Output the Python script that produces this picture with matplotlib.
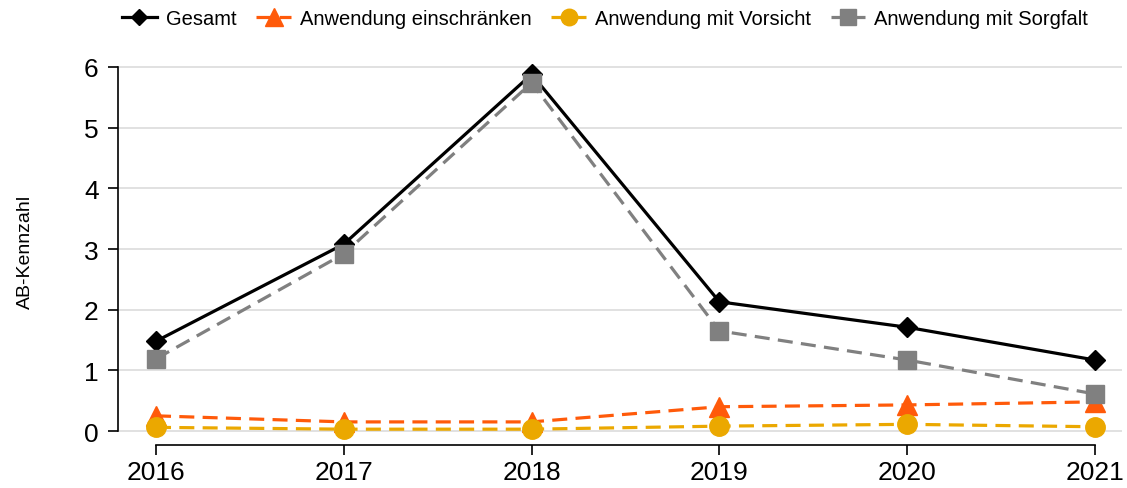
import matplotlib
matplotlib.use("Agg")
import matplotlib.pyplot as plt

plt.rcParams['font.family'] = ['Liberation Sans', 'DejaVu Sans']

years = [2016, 2017, 2018, 2019, 2020, 2021]
gesamt = [1.48, 3.08, 5.88, 2.13, 1.71, 1.17]
einschraenken = [0.25, 0.15, 0.15, 0.40, 0.43, 0.48]
vorsicht = [0.06, 0.03, 0.03, 0.08, 0.11, 0.07]
sorgfalt = [1.19, 2.92, 5.74, 1.65, 1.17, 0.61]

labels = ["Gesamt", "Anwendung einschränken", "Anwendung mit Vorsicht", "Anwendung mit Sorgfalt"]
yticks = [0, 1, 2, 3, 4, 5, 6]

fig = plt.figure(figsize=(11.27, 4.89), dpi=100)
ax = fig.add_axes([118/1127, 1-446/489, (1122-118)/1127, (446-58)/489])

lw = 2.3
dash = (4.7, 2.6)
ax.plot(years, gesamt, color='black', lw=lw, marker='D', markersize=10, label=labels[0], zorder=3)
ax.plot(years, einschraenken, color='#FF5A0A', lw=lw, ls='--', dashes=dash, marker='^', markersize=14.5,
        label=labels[1], zorder=4)
ax.plot(years, vorsicht, color='#EBA800', lw=lw, ls='--', dashes=dash, marker='o', markersize=14,
        label=labels[2], zorder=5)
ax.plot(years, sorgfalt, color='#808080', lw=lw, ls='--', dashes=dash, marker='s', markersize=13.5,
        label=labels[3], zorder=6)

ax.set_xlim(2016 - 38/187.8, 2021 + 27/187.8)
ax.set_ylim(-14/60.67, 6 + 10/60.67)

ax.set_yticks(yticks)
ax.set_xticks(years)
for y in yticks:
    ax.axhline(y, color='#d9d9d9', lw=1.1, zorder=1)

for s in ['top', 'right']:
    ax.spines[s].set_visible(False)
ax.spines['left'].set_bounds(0, 6)
ax.spines['bottom'].set_bounds(2016, 2021)
ax.spines['left'].set_linewidth(1.2)
ax.spines['bottom'].set_linewidth(1.2)

ax.tick_params(axis='y', length=7.5, width=1.2, labelsize=19, pad=6.5)
ax.tick_params(axis='x', length=7.5, width=1.2, labelsize=19, pad=3)
ax.set_ylabel("AB-Kennzahl", fontsize=14, labelpad=36)

fig.legend(loc='upper center', bbox_to_anchor=(0.537, 1.016), ncol=4, frameon=False, fontsize=14.5,
           handlelength=1.7, handletextpad=0.45, columnspacing=1.0, markerscale=0.85)

fig.savefig("out.png", dpi=100)
